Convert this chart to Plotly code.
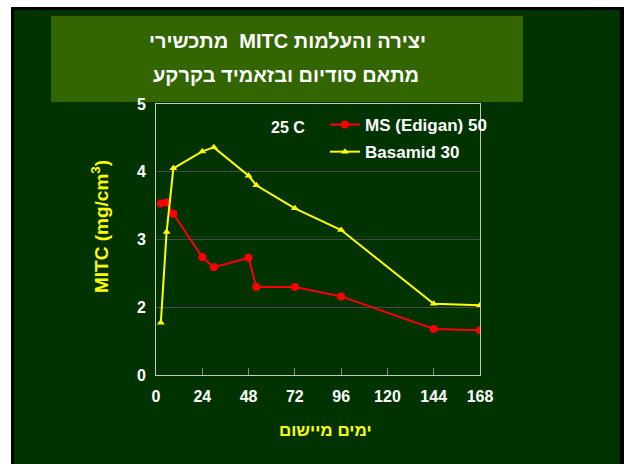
import plotly.graph_objects as go

# ---- data ----
hours_ms = [2.5, 5.5, 9, 24, 30, 48, 52, 72, 96, 144, 168]
mitc_ms = [3.53, 3.55, 3.38, 2.74, 2.59, 2.73, 2.30, 2.30, 2.16, 1.68, 1.66]
hours_bas = [2.5, 5.5, 9, 24, 30, 48, 52, 72, 96, 144, 168]
mitc_bas = [1.77, 3.11, 4.05, 4.30, 4.36, 3.94, 3.80, 3.46, 3.14, 2.05, 2.03]
x_ticks = [0, 24, 48, 72, 96, 120, 144, 168]
y_tickvals = [1, 2, 3, 4, 5]
y_ticktext = ["0", "2", "3", "4", "5"]
name_ms = "MS (Edigan) 50"
name_bas = "Basamid 30"
title_l1 = "\u202bיצירה והעלמות MITC  מתכשירי\u202c"
title_l2 = "\u202bמתאם סודיום ובזאמיד בקרקע\u202c"
x_title = "\u202bימים מיישום\u202c"
y_title = "MITC (mg/cm<sup>3</sup>)"
temp_label = "25 C"

W, H = 624, 464
FONT = "Liberation Sans, Arial, sans-serif"


def px(x):
    return x / W


def py(y):
    return 1 - y / H


fig = go.Figure()
fig.add_trace(go.Scatter(
    x=hours_ms, y=mitc_ms, name=name_ms, mode="lines+markers",
    line=dict(color="#ff0000", width=2),
    marker=dict(symbol="circle", size=8, color="#ff0000"),
    legendgroup="a",
))
fig.add_trace(go.Scatter(
    x=hours_bas, y=mitc_bas, name=name_bas, mode="lines+markers",
    line=dict(color="#ffff00", width=2),
    marker=dict(symbol="triangle-up", size=7, color="#ffff00"),
    legendgroup="b",
))

shapes = [
    dict(type="rect", xref="paper", yref="paper", layer="below",
         x0=px(11), x1=1, y0=0, y1=py(7),
         line=dict(width=0), fillcolor="black"),
    dict(type="rect", xref="paper", yref="paper", layer="below",
         x0=px(14), x1=px(620), y0=0, y1=py(10),
         line=dict(width=0), fillcolor="#003300"),
    dict(type="rect", xref="paper", yref="paper", layer="below",
         x0=px(51), x1=px(523), y0=py(102), y1=py(16),
         line=dict(width=0), fillcolor="#336600"),
    dict(type="line", xref="paper", yref="paper", layer="below",
         x0=px(157), x1=px(479), y0=py(236.7), y1=py(236.7),
         line=dict(width=1, color="#0b4a0b")),
]

annotations = [
    dict(text=title_l1, x=px(287), y=py(41), xref="paper", yref="paper",
         showarrow=False, xanchor="center", yanchor="middle",
         font=dict(family=FONT, size=20, color="white", weight="bold")),
    dict(text=title_l2, x=px(286), y=py(75), xref="paper", yref="paper",
         showarrow=False, xanchor="center", yanchor="middle",
         font=dict(family=FONT, size=20, color="white", weight="bold")),
    dict(text=temp_label, x=px(288), y=py(127), xref="paper", yref="paper",
         showarrow=False, xanchor="center", yanchor="middle",
         font=dict(family=FONT, size=16, color="white", weight="bold")),
    dict(text=x_title, x=px(325), y=py(430), xref="paper", yref="paper",
         showarrow=False, xanchor="center", yanchor="middle",
         font=dict(family=FONT, size=17, color="#ffff00", weight="bold")),
    dict(text=y_title, x=px(100), y=py(227), xref="paper", yref="paper",
         showarrow=False, xanchor="center", yanchor="middle", textangle=-90,
         font=dict(family=FONT, size=19, color="#ffff00", weight="bold")),
]

fig.update_layout(
    width=W, height=H,
    margin=dict(l=0, r=0, t=0, b=0, autoexpand=False),
    paper_bgcolor="white",
    plot_bgcolor="#1f1f1f",
    showlegend=True,
    legend=dict(
        x=px(325), y=py(107), xanchor="left", yanchor="top",
        bgcolor="rgba(0,0,0,0)", traceorder="grouped", tracegroupgap=2,
        font=dict(family=FONT, size=17, color="white", weight="bold"),
        itemwidth=30,
    ),
    shapes=shapes,
    annotations=annotations,
    xaxis=dict(
        domain=[px(156), px(480)], range=[0, 168], automargin=False,
        tickvals=x_ticks, ticks="inside", ticklen=7, tickcolor="#888888",
        showgrid=False, zeroline=False,
        showline=True, mirror=True, linecolor="#c8c8c8", linewidth=1,
        tickfont=dict(family=FONT, size=16, color="white", weight="bold"),
        ticklabelstandoff=7,
    ),
    yaxis=dict(
        domain=[py(375), py(104)], range=[1, 5], automargin=False,
        tickvals=y_tickvals, ticktext=y_ticktext, ticks="",
        showgrid=True, gridcolor="#4a4a4a", gridwidth=1, zeroline=False,
        showline=True, mirror=True, linecolor="#c8c8c8", linewidth=1,
        tickfont=dict(family=FONT, size=16, color="white", weight="bold"),
        ticklabelstandoff=6,
    ),
)

fig.write_html("out.html")
